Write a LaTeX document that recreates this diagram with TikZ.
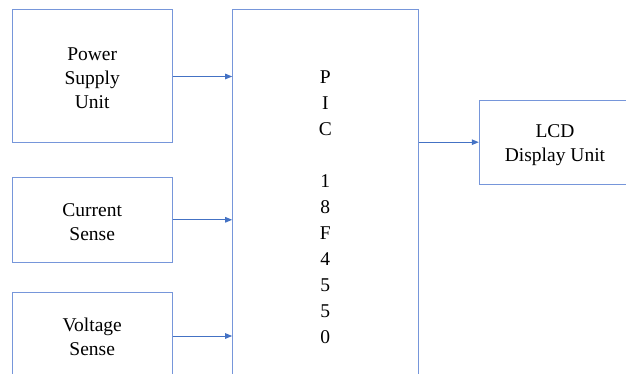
\documentclass[tikz,border=0pt]{standalone}
\usepackage{fontspec}
\setmainfont{Liberation Serif}
\usetikzlibrary{arrows.meta}
\definecolor{boxline}{RGB}{118,150,218}
\definecolor{arrline}{RGB}{68,114,196}
\newcommand{\topstrut}[1]{\rule{0pt}{#1}}
\tikzset{
  blk/.style={draw=boxline, line width=1pt, align=center, inner sep=0pt,
    font=\fontsize{19.5}{24}\selectfont, text=black},
  conn/.style={draw=arrline, line width=1pt, -{Triangle[length=7pt,width=5.5pt]}}
}
\begin{document}
\begin{tikzpicture}[x=1pt,y=-1pt]
\useasboundingbox (0,0) rectangle (626,374);
\clip (0,0) rectangle (626,374);
\node[blk, minimum width=159.7pt, minimum height=133pt] (power) at (92.2,76.5) {\topstrut{16.5pt}Power\\Supply\\Unit};
\node[blk, minimum width=159.7pt, minimum height=85pt] (current) at (92.2,219.8) {\topstrut{17pt}Current\\Sense};
\node[blk, minimum width=159.7pt, minimum height=86.6pt] (voltage) at (92.2,336) {\topstrut{16pt}Voltage\\Sense};
\node[blk, minimum width=185.3pt, minimum height=394pt, font=\fontsize{19.5}{26}\selectfont] (pic) at (325.35,207) {P\\I\\C\\[26pt]1\\8\\F\\4\\5\\5\\0};
\node[blk, minimum width=151.4pt, minimum height=84.3pt] (lcd) at (555,142.2) {\topstrut{19pt}LCD\\Display Unit};
\draw[conn] (power.east) -- (power.east -| pic.west);
\draw[conn] (current.east) -- (current.east -| pic.west);
\draw[conn] (voltage.east) -- (voltage.east -| pic.west);
\draw[conn] (lcd.west -| pic.east) -- (lcd.west);
\end{tikzpicture}
\end{document}
